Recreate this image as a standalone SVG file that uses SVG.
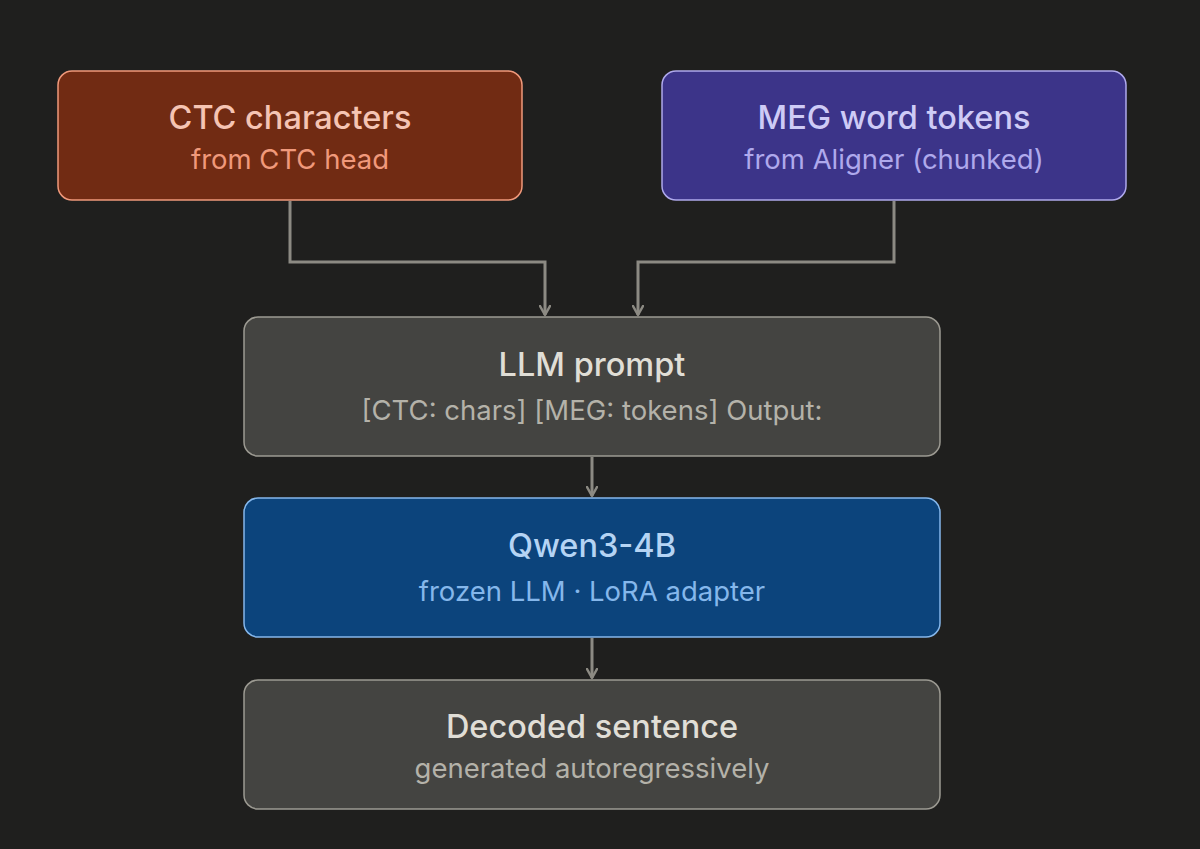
<svg xmlns="http://www.w3.org/2000/svg" width="1200" height="849" viewBox="0 0 1200 849">
<style>
.t{font-family:Inter,"Noto Sans","Liberation Sans",sans-serif;font-size:32.5px;font-weight:500;text-anchor:middle;dominant-baseline:central}
.s{font-family:Inter,"Noto Sans","Liberation Sans",sans-serif;font-size:27.5px;font-weight:400;text-anchor:middle;dominant-baseline:central}
.c{fill:none;stroke:#8c8a83;stroke-width:3}
</style>
<defs>
<marker id="arr" viewBox="0 0 12 12" refX="10" refY="6" markerWidth="12" markerHeight="12" markerUnits="userSpaceOnUse" orient="auto">
<path d="M1 1 L10 6 L1 11" fill="none" stroke="#8c8a83" stroke-width="2.5" stroke-linecap="round" stroke-linejoin="round"/>
</marker>
</defs>
<rect width="1200" height="849" fill="#1f1f1e"/>
<g id="connectors">
<path class="c" d="M290 201 V262 H545 V315" marker-end="url(#arr)"/>
<path class="c" d="M894 201 V262 H638 V315" marker-end="url(#arr)"/>
<path class="c" d="M592 457 V496" marker-end="url(#arr)"/>
<path class="c" d="M592 638 V678" marker-end="url(#arr)"/>
</g>
<g id="ctc">
<rect x="58" y="71" width="464" height="129" rx="14" fill="#712b13" stroke="#f0997b" stroke-width="1.5"/>
<text class="t" x="290" y="117" fill="#f5c4b3">CTC characters</text>
<text class="s" x="290" y="159" fill="#f0997b">from CTC head</text>
</g>
<g id="meg">
<rect x="662" y="71" width="464" height="129" rx="14" fill="#3c3489" stroke="#afa9ec" stroke-width="1.5"/>
<text class="t" x="894" y="117" fill="#cecbf6">MEG word tokens</text>
<text class="s" x="894" y="159" fill="#afa9ec">from Aligner (chunked)</text>
</g>
<g id="prompt">
<rect x="244" y="317" width="696" height="139" rx="14" fill="#444441" stroke="#9c9a92" stroke-width="1.5"/>
<text class="t" x="592" y="364" fill="#e0ded6">LLM prompt</text>
<text class="s" x="592" y="410" fill="#b4b2a9">[CTC: chars] [MEG: tokens] Output:</text>
</g>
<g id="qwen">
<rect x="244" y="498" width="696" height="139" rx="14" fill="#0c447c" stroke="#85b7eb" stroke-width="1.5"/>
<text class="t" x="592" y="545" fill="#b5d4f4">Qwen3-4B</text>
<text class="s" x="592" y="591" fill="#85b7eb">frozen LLM · LoRA adapter</text>
</g>
<g id="decoded">
<rect x="244" y="680" width="696" height="129" rx="14" fill="#444441" stroke="#9c9a92" stroke-width="1.5"/>
<text class="t" x="592" y="726" fill="#e0ded6">Decoded sentence</text>
<text class="s" x="592" y="768" fill="#b4b2a9">generated autoregressively</text>
</g>
</svg>
